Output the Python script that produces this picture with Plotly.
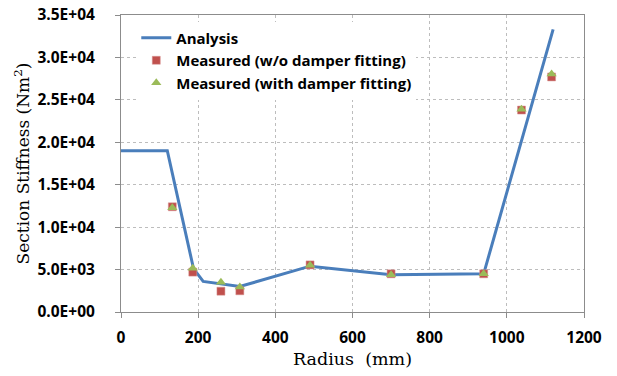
import plotly.graph_objects as go

# Analysis curve
analysis_r = [0, 120, 188, 213, 308, 490, 700, 940, 1120]
analysis_k = [19000, 19000, 5100, 3600, 3000, 5400, 4400, 4500, 33300]

# Measured without damper fitting
meas_wo_r = [133, 186, 259, 308, 490, 700, 940, 1038, 1116]
meas_wo_k = [12400, 4700, 2450, 2500, 5550, 4500, 4500, 23800, 27700]

# Measured with damper fitting
meas_w_r = [133, 186, 259, 308, 490, 700, 940, 1038, 1116]
meas_w_k = [12300, 5150, 3500, 2950, 5500, 4400, 4500, 23900, 28050]

y_ticks = [0, 5000, 10000, 15000, 20000, 25000, 30000, 35000]
y_tick_labels = ["0.0E+00", "5.0E+03", "1.0E+04", "1.5E+04", "2.0E+04",
                 "2.5E+04", "3.0E+04", "3.5E+04"]
x_ticks = [0, 200, 400, 600, 800, 1000, 1200]

fig = go.Figure()
fig.add_trace(go.Scatter(x=analysis_r, y=analysis_k, mode="lines", name="Analysis",
                         line=dict(color="#4A7EBB", width=3)))
fig.add_trace(go.Scatter(x=meas_wo_r, y=meas_wo_k, mode="markers",
                         name="Measured (w/o damper fitting)",
                         marker=dict(symbol="square", color="#C0504D", size=8,
                                     line=dict(color="#D99694", width=0.5))))
fig.add_trace(go.Scatter(x=meas_w_r, y=meas_w_k, mode="markers",
                         name="Measured (with damper fitting)",
                         marker=dict(symbol="triangle-up", color="#9BBB59", size=9,
                                     line=dict(width=0))))

tickfont = dict(family="Open Sans", size=15.5, color="black", weight="bold")
fig.update_layout(
    width=617, height=376,
    margin=dict(l=121, r=33, t=15, b=64),
    plot_bgcolor="white", paper_bgcolor="white",
    showlegend=True,
    legend=dict(x=0.033, y=0.978, xanchor="left", yanchor="top",
                bgcolor="white", borderwidth=0,
                font=dict(family="Open Sans", size=15, color="black", weight="bold"),
                tracegroupgap=0),
    xaxis=dict(range=[0, 1200], tickvals=x_ticks, tickfont=tickfont, automargin=False,
               showgrid=True, gridcolor="#BDBDBD", griddash="3px,3px", gridwidth=1,
               showline=True, linecolor="#8C8C8C", linewidth=1, mirror=True,
               ticks="outside", ticklen=5, tickcolor="#8C8C8C",
               ticklabelstandoff=6, zeroline=False),
    yaxis=dict(range=[0, 35000], tickvals=y_ticks, ticktext=y_tick_labels,
               tickfont=tickfont, automargin=False,
               showgrid=True, gridcolor="#BDBDBD", griddash="3px,3px", gridwidth=1,
               showline=True, linecolor="#8C8C8C", linewidth=1, mirror=True,
               ticks="outside", ticklen=5, tickcolor="#8C8C8C",
               ticklabelstandoff=17, zeroline=False,
               title=dict(text="Section Stiffness (Nm<sup>2</sup>)", standoff=3,
                          font=dict(family="DejaVu Serif", size=17, color="black"))),
    annotations=[dict(text="Radius  (mm)", xref="paper", yref="paper",
                      x=0.5, y=-0.158, xanchor="center", yanchor="middle",
                      showarrow=False,
                      font=dict(family="DejaVu Serif", size=17.5, color="black"))],
)

fig.write_html("out.html")
